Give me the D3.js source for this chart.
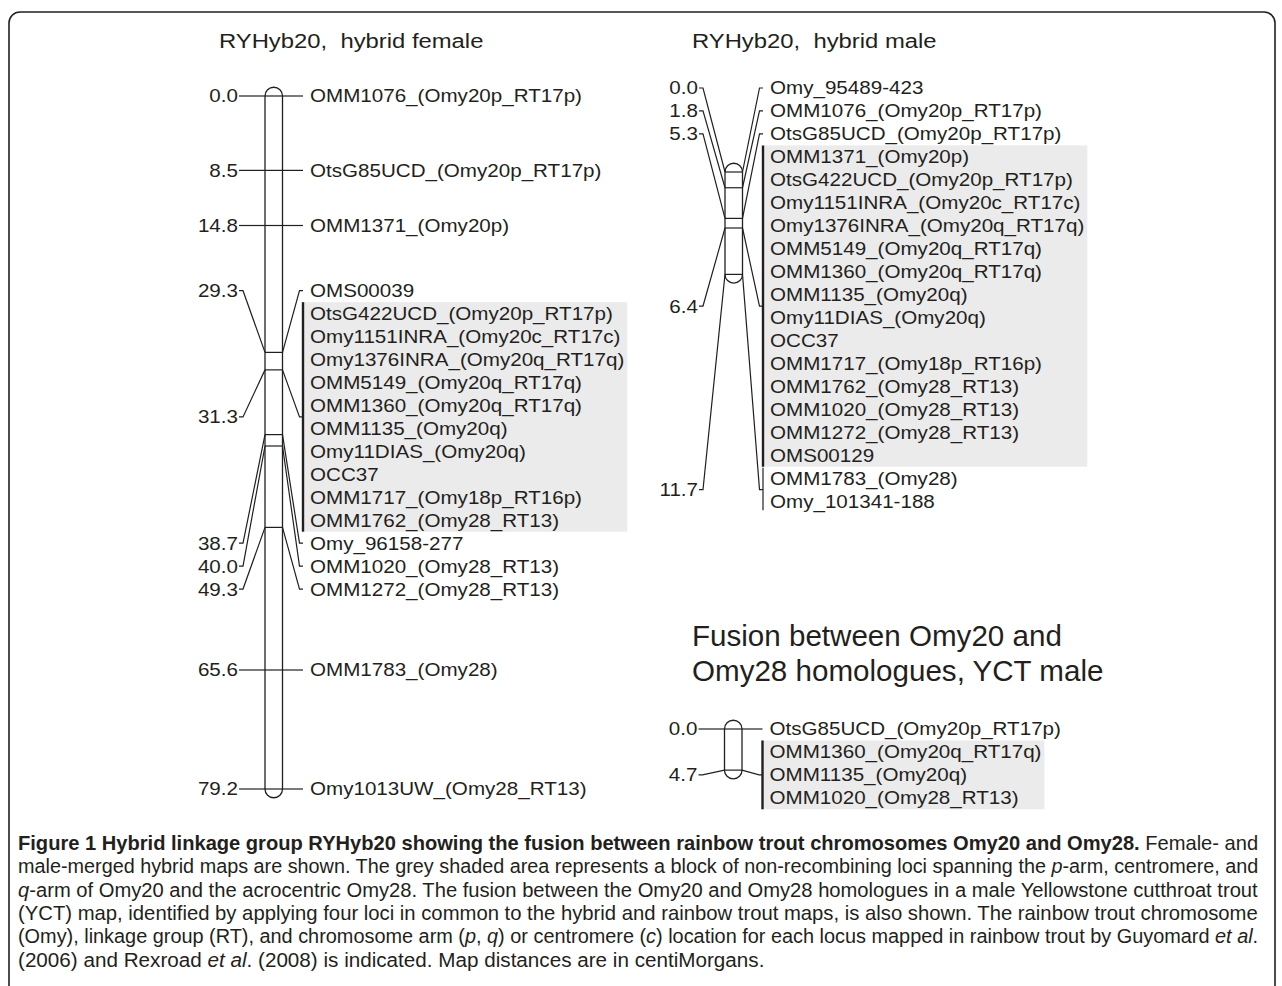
<!DOCTYPE html>
<html>
<head>
<meta charset="utf-8">
<script src="https://cdn.jsdelivr.net/npm/d3@7"></script>
<style>
  html, body { margin: 0; padding: 0; background: #fff; }
  svg { display: block; }
  text { font-family: "Liberation Sans", Arial, Helvetica, sans-serif; fill: #231f20; white-space: pre; }
</style>
</head>
<body>
<svg id="fig" width="1282" height="986"></svg>
<script>
// ---------- map data (positions in centiMorgans) ----------
const femaleLoci = [
  "OMM1076_(Omy20p_RT17p)", "OtsG85UCD_(Omy20p_RT17p)", "OMM1371_(Omy20p)", "OMS00039",
  "OtsG422UCD_(Omy20p_RT17p)", "Omy1151INRA_(Omy20c_RT17c)", "Omy1376INRA_(Omy20q_RT17q)",
  "OMM5149_(Omy20q_RT17q)", "OMM1360_(Omy20q_RT17q)", "OMM1135_(Omy20q)", "Omy11DIAS_(Omy20q)",
  "OCC37", "OMM1717_(Omy18p_RT16p)", "OMM1762_(Omy28_RT13)",
  "Omy_96158-277", "OMM1020_(Omy28_RT13)", "OMM1272_(Omy28_RT13)", "OMM1783_(Omy28)",
  "Omy1013UW_(Omy28_RT13)"
];
const femaleCM = [0.0, 8.5, 14.8, 29.3,
  31.3, 31.3, 31.3, 31.3, 31.3, 31.3, 31.3, 31.3, 31.3, 31.3,
  38.7, 40.0, 49.3, 65.6, 79.2];
const femaleBlockCM = 31.3;

const maleLoci = [
  "Omy_95489-423", "OMM1076_(Omy20p_RT17p)", "OtsG85UCD_(Omy20p_RT17p)",
  "OMM1371_(Omy20p)", "OtsG422UCD_(Omy20p_RT17p)", "Omy1151INRA_(Omy20c_RT17c)",
  "Omy1376INRA_(Omy20q_RT17q)", "OMM5149_(Omy20q_RT17q)", "OMM1360_(Omy20q_RT17q)",
  "OMM1135_(Omy20q)", "Omy11DIAS_(Omy20q)", "OCC37", "OMM1717_(Omy18p_RT16p)",
  "OMM1762_(Omy28_RT13)", "OMM1020_(Omy28_RT13)", "OMM1272_(Omy28_RT13)", "OMS00129",
  "OMM1783_(Omy28)", "Omy_101341-188"
];
const maleCM = [0.0, 1.8, 5.3,
  6.4, 6.4, 6.4, 6.4, 6.4, 6.4, 6.4, 6.4, 6.4, 6.4, 6.4, 6.4, 6.4, 6.4,
  11.7, 11.7];
const maleBlockCM = 6.4;

const yctLoci = ["OtsG85UCD_(Omy20p_RT17p)", "OMM1360_(Omy20q_RT17q)", "OMM1135_(Omy20q)", "OMM1020_(Omy28_RT13)"];
const yctCM = [0.0, 4.7, 4.7, 4.7];
const yctBlockCM = 4.7;

const titles = ["RYHyb20,  hybrid female", "RYHyb20,  hybrid male"];
const fusionTitle = ["Fusion between Omy20 and", "Omy28 homologues, YCT male"];

const captionLines = [
  [{t: "Figure 1 Hybrid linkage group RYHyb20 showing the fusion between rainbow trout chromosomes Omy20 and Omy28.", b: true}, {t: " Female- and"}],
  [{t: "male-merged hybrid maps are shown. The grey shaded area represents a block of non-recombining loci spanning the "}, {t: "p", i: true}, {t: "-arm, centromere, and"}],
  [{t: "q", i: true}, {t: "-arm of Omy20 and the acrocentric Omy28. The fusion between the Omy20 and Omy28 homologues in a male Yellowstone cutthroat trout"}],
  [{t: "(YCT) map, identified by applying four loci in common to the hybrid and rainbow trout maps, is also shown. The rainbow trout chromosome"}],
  [{t: "(Omy), linkage group (RT), and chromosome arm ("}, {t: "p", i: true}, {t: ", "}, {t: "q", i: true}, {t: ") or centromere ("}, {t: "c", i: true}, {t: ") location for each locus mapped in rainbow trout by Guyomard "}, {t: "et al", i: true}, {t: "."}],
  [{t: "(2006) and Rexroad "}, {t: "et al", i: true}, {t: ". (2008) is indicated. Map distances are in centiMorgans."}]
];

// ---------- drawing constants ----------
const INK = "#231f20";
const SHADE = "#ebebeb";
const ROW = 22.95;          // label row pitch
const PX_PER_CM = 8.75;
const BAR_W = 17.5;
const LBL = {size: 18, sx: 1.145};

const svg = d3.select("#fig");

// frame around figure and caption
svg.append("rect")
  .attr("x", 9).attr("y", 12).attr("width", 1266).attr("height", 1010)
  .attr("rx", 11).attr("fill", "none").attr("stroke", INK).attr("stroke-width", 1.6);

function stretchedText(g, x, y, str, size, sx, anchor) {
  return g.append("text")
    .attr("transform", `translate(${x},${y}) scale(${sx},1)`)
    .attr("font-size", size)
    .attr("text-anchor", anchor || "start")
    .text(str);
}

// group consecutive loci sharing a position
function buildGroups(loci, cms, blockCM) {
  const groups = [];
  loci.forEach((name, i) => {
    const last = groups[groups.length - 1];
    if (last && last.cM === cms[i]) last.names.push(name);
    else groups.push({cM: cms[i], names: [name]});
  });
  groups.forEach(g => g.shaded = g.cM === blockCM && g.names.length > 1);
  return groups;
}

// spread label rows so they never overlap; overlapping runs are centred on
// the middle of the positions they label, but never rise above topLimit
function layoutRows(groups, y, topLimit) {
  let blocks = groups.map(g => ({groups: [g], n: g.names.length, lo: y(g.cM), hi: y(g.cM)}));
  const first = b => Math.max(topLimit, (b.lo + b.hi) / 2 - (b.n - 1) / 2 * ROW);
  let changed = true;
  while (changed) {
    changed = false;
    const out = [blocks[0]];
    for (let i = 1; i < blocks.length; i++) {
      const a = out[out.length - 1], b = blocks[i];
      if (first(b) < first(a) + a.n * ROW - 0.01) {
        out[out.length - 1] = {groups: a.groups.concat(b.groups), n: a.n + b.n, lo: a.lo, hi: b.hi};
        changed = true;
      } else out.push(b);
    }
    blocks = out;
  }
  blocks.forEach(b => {
    let r = first(b);
    b.groups.forEach(g => {
      g.rows = g.names.map((_, k) => r + k * ROW);
      r += g.names.length * ROW;
      g.mid = d3.mean(g.rows);
    });
  });
}

function drawMap(loci, cms, blockCM, barX, y0, topLimit) {
  const groups = buildGroups(loci, cms, blockCM);
  const maxCM = d3.max(cms);
  const y = d3.scaleLinear().domain([0, maxCM]).range([y0, y0 + maxCM * PX_PER_CM]);
  layoutRows(groups, y, topLimit);

  const g = svg.append("g");
  const shadeLayer = g.append("g");
  const lineLayer = g.append("g").attr("fill", "none").attr("stroke", INK).attr("stroke-width", 1.2);
  const textLayer = g.append("g");

  const xL = barX, xR = barX + BAR_W, r = BAR_W / 2;
  const bracketX = xR + 20.5, labelX = xR + 27.5, cmX = xL - 27;

  // chromosome bar with rounded ends
  const top = y(0), bot = y(maxCM);
  lineLayer.append("path")
    .attr("d", `M${xL},${top} A${r},${r} 0 0 1 ${xR},${top} L${xR},${bot} A${r},${r} 0 0 1 ${xL},${bot} Z`)
    .attr("fill", "#fff").attr("stroke-width", 1.3);

  groups.forEach(gr => {
    const my = y(gr.cM);
    // position tick across the bar
    lineLayer.append("path").attr("d", `M${xL},${my}H${xR}`);
    // left connector to cM label
    lineLayer.append("path").attr("d", `M${xL - 26},${gr.mid}H${xL - 22}L${xL},${my}`);
    // right connector to locus label(s)
    lineLayer.append("path").attr("d", `M${xR},${my}L${xR + 17},${gr.mid}H${bracketX}`);
    stretchedText(textLayer, cmX, gr.mid, gr.cM.toFixed(1), LBL.size, LBL.sx, "end").attr("dy", "0.36em");
    const widths = gr.names.map((nm, k) => {
      const t = stretchedText(textLayer, labelX, gr.rows[k], nm, LBL.size, LBL.sx, "start").attr("dy", "0.36em");
      return t.node().getComputedTextLength() * LBL.sx;
    });
    if (gr.names.length > 1) {
      const yT = gr.rows[0], yB = gr.rows[gr.rows.length - 1];
      if (gr.shaded) {
        shadeLayer.append("rect")
          .attr("x", bracketX).attr("y", yT - ROW / 2)
          .attr("width", labelX - bracketX + d3.max(widths) + 3)
          .attr("height", yB - yT + ROW)
          .attr("fill", SHADE);
        lineLayer.append("path").attr("d", `M${bracketX},${yT - ROW / 2}V${yB + ROW / 2}`).attr("stroke-width", 2.4);
      } else {
        lineLayer.append("path").attr("d", `M${bracketX},${yT - ROW * 0.45}V${yB + ROW * 0.4}`);
      }
    }
  });
}

// ---------- maps ----------
drawMap(femaleLoci, femaleCM, femaleBlockCM, 265, 96, 88);
drawMap(maleLoci, maleCM, maleBlockCM, 725, 172, 88);
drawMap(yctLoci, yctCM, yctBlockCM, 724.5, 729, 729);

// ---------- titles ----------
stretchedText(svg, 219, 48, titles[0], 21, 1.135, "start");
stretchedText(svg, 692, 48, titles[1], 21, 1.135, "start");
stretchedText(svg, 692, 646, fusionTitle[0], 29, 1.02, "start");
stretchedText(svg, 692, 681, fusionTitle[1], 29, 1.02, "start");

// ---------- caption (justified lines, last line ragged) ----------
const capG = svg.append("g");
const capX = 18, capRight = 1259, capTop = 850, capStep = 23.3, capSize = 21;
const capNodes = captionLines.map((segs, i) => {
  const t = capG.append("text").attr("font-size", capSize);
  segs.forEach(s => {
    const ts = t.append("tspan").text(s.t);
    if (s.b) ts.attr("font-weight", "bold");
    if (s.i) ts.attr("font-style", "italic");
  });
  return t;
});
const capScales = capNodes.slice(0, -1).map(t => (capRight - capX) / t.node().getComputedTextLength());
const lastScale = d3.mean(capScales) * 1.03;
capNodes.forEach((t, i) => {
  const s = i < capScales.length ? capScales[i] : lastScale;
  t.attr("transform", `translate(${capX},${capTop + i * capStep}) scale(${s},1)`);
});
</script>
</body>
</html>
